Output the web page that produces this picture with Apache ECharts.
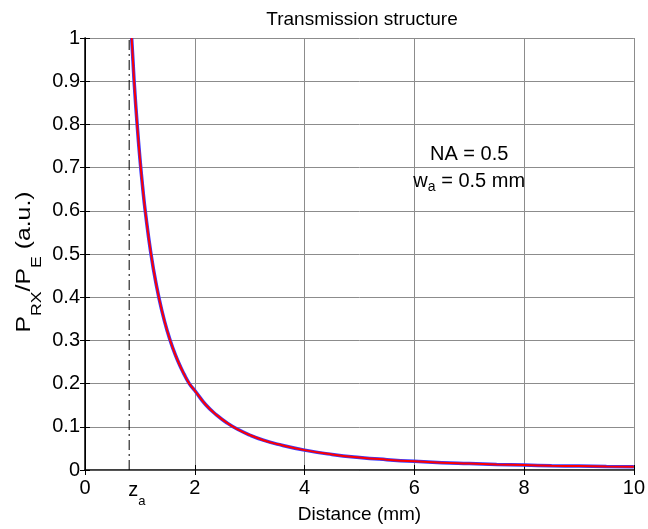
<!DOCTYPE html>
<html><head><meta charset="utf-8">
<script src="https://cdn.jsdelivr.net/npm/echarts@6/dist/echarts.min.js"></script>
<style>html,body{margin:0;padding:0;background:#fff}#c{width:648px;height:529px}</style>
</head><body><div id="c"></div>
<script>
// Data
const distance = [0.85, 0.875, 0.90, 0.95, 1.0, 1.05, 1.1, 1.2, 1.3, 1.4, 1.5, 1.6, 1.7, 1.8, 1.9, 2.0, 2.2, 2.4, 2.6, 2.8, 3.0, 3.25, 3.5, 4.0, 4.5, 5.0, 5.5, 6.0, 6.5, 7.0, 7.5, 8.0, 8.5, 9.0, 9.5, 10.0];
const powerBlue = [1.0, 0.945, 0.89, 0.80, 0.722, 0.655, 0.597, 0.502, 0.428, 0.369, 0.321, 0.282, 0.25, 0.223, 0.20, 0.184, 0.151, 0.127, 0.108, 0.093, 0.081, 0.069, 0.060, 0.046, 0.036, 0.029, 0.024, 0.020, 0.017, 0.015, 0.013, 0.0115, 0.010, 0.009, 0.008, 0.0073];
const powerRed  = [1.0, 0.945, 0.89, 0.80, 0.722, 0.655, 0.597, 0.502, 0.428, 0.369, 0.321, 0.282, 0.25, 0.223, 0.20, 0.184, 0.151, 0.127, 0.108, 0.093, 0.081, 0.069, 0.060, 0.046, 0.036, 0.029, 0.024, 0.020, 0.017, 0.015, 0.013, 0.0115, 0.010, 0.009, 0.008, 0.0073];
const zA = 0.805;
const zALine = [0, 1];
const xRange = [0, 10, 2];
const yRange = [0, 1, 0.1];
const annotationPos = [7, 0.7];

const FONT = '"Liberation Sans", Arial, sans-serif';
const chart = echarts.init(document.getElementById('c'));

const pairs = (xs, ys) => xs.map((x, i) => [x, ys[i]]);

const baseAxis = {
  axisLine: { show: true, onZero: false, lineStyle: { color: '#000', width: 1.5 } },
  axisTick: { show: true, inside: true, length: 5, lineStyle: { color: '#000', width: 1 } },
  axisLabel: { color: '#000', fontFamily: FONT, fontSize: 20 },
  splitLine: { show: true, lineStyle: { color: '#8c8c8c', width: 1 } }
};

chart.setOption({
  animation: false,
  backgroundColor: '#fff',
  title: {
    text: 'Transmission structure',
    left: 357, top: 5, textAlign: 'center',
    textStyle: { fontFamily: FONT, fontSize: 19, fontWeight: 'normal', color: '#000' }
  },
  grid: { left: 85, right: 13, top: 38, bottom: 57, containLabel: false },
  xAxis: [
    Object.assign({}, baseAxis, {
      type: 'value', min: xRange[0], max: xRange[1], interval: xRange[2],
      axisLabel: Object.assign({}, baseAxis.axisLabel, { margin: 8 }),
      name: 'Distance (mm)', nameLocation: 'middle', nameGap: 35,
      nameTextStyle: { fontFamily: FONT, fontSize: 19, color: '#000' }
    }),
    {
      type: 'value', position: 'top', min: xRange[0], max: xRange[1], interval: xRange[2],
      axisLine: { show: true, lineStyle: { color: '#555', width: 1 } },
      axisTick: { show: true, inside: true, length: 5, lineStyle: { color: '#000' } },
      axisLabel: { show: false }, splitLine: { show: false }
    }
  ],
  yAxis: [
    Object.assign({}, baseAxis, {
      type: 'value', min: yRange[0], max: yRange[1], interval: yRange[2],
      axisLabel: Object.assign({}, baseAxis.axisLabel, { margin: 5 })
    }),
    {
      type: 'value', position: 'right', min: yRange[0], max: yRange[1], interval: yRange[2],
      axisLine: { show: true, lineStyle: { color: '#000', width: 1 } },
      axisTick: { show: true, inside: true, length: 5, lineStyle: { color: '#000' } },
      axisLabel: { show: false }, splitLine: { show: false }
    }
  ],
  series: [
    {
      type: 'line', data: [[zA, zALine[0]], [zA, zALine[1]]], showSymbol: false, silent: true,
      lineStyle: { color: '#000', width: 1, type: [10, 4, 2, 4] }, z: 3
    },
    {
      type: 'line', data: pairs(distance, powerBlue), showSymbol: false, smooth: 0.5,
      lineStyle: { color: '#3a3aff', width: 3.5 }, z: 4
    },
    {
      type: 'line', data: pairs(distance, powerRed), showSymbol: false, smooth: 0.5,
      lineStyle: { color: '#ff0000', width: 2 }, z: 5
    }
  ]
});

const zPx = chart.convertToPixel({ xAxisIndex: 0 }, zA);
const annPx = chart.convertToPixel({ xAxisIndex: 0, yAxisIndex: 0 }, annotationPos);
const plotMidY = chart.convertToPixel({ yAxisIndex: 0 }, (yRange[0] + yRange[1]) / 2);

chart.setOption({
  graphic: [
    {
      type: 'text', x: zPx - 1, y: 490, z: 10,
      style: {
        text: '{m|z}{s|a}', align: 'left', verticalAlign: 'middle',
        rich: {
          m: { fontFamily: FONT, fontSize: 20, lineHeight: 36, verticalAlign: 'middle', fill: '#000' },
          s: { fontFamily: FONT, fontSize: 13, lineHeight: 16, verticalAlign: 'bottom', fill: '#000' }
        }
      }
    },
    {
      type: 'text', x: 24, y: plotMidY + 8, rotation: Math.PI / 2, scaleX: 1.18, z: 10,
      style: {
        text: '{m|P}{s|RX}{m|/P}{s|E}{m| (a.u.)}', align: 'center', verticalAlign: 'middle',
        rich: {
          m: { fontFamily: FONT, fontSize: 21, lineHeight: 40, verticalAlign: 'middle', fill: '#000' },
          s: { fontFamily: FONT, fontSize: 15, lineHeight: 16, verticalAlign: 'bottom', fill: '#000' }
        }
      }
    },
    {
      type: 'text', x: annPx[0], y: annPx[1], z: 10,
      style: {
        text: '{m|NA = 0.5}\n{m|w}{s|a}{m| = 0.5 mm}', align: 'center', verticalAlign: 'middle',
        rich: {
          m: { fontFamily: FONT, fontSize: 20, lineHeight: 27, verticalAlign: 'middle', fill: '#000' },
          s: { fontFamily: FONT, fontSize: 14, lineHeight: 10, verticalAlign: 'bottom', fill: '#000' }
        }
      }
    }
  ]
});
</script>
</body></html>
